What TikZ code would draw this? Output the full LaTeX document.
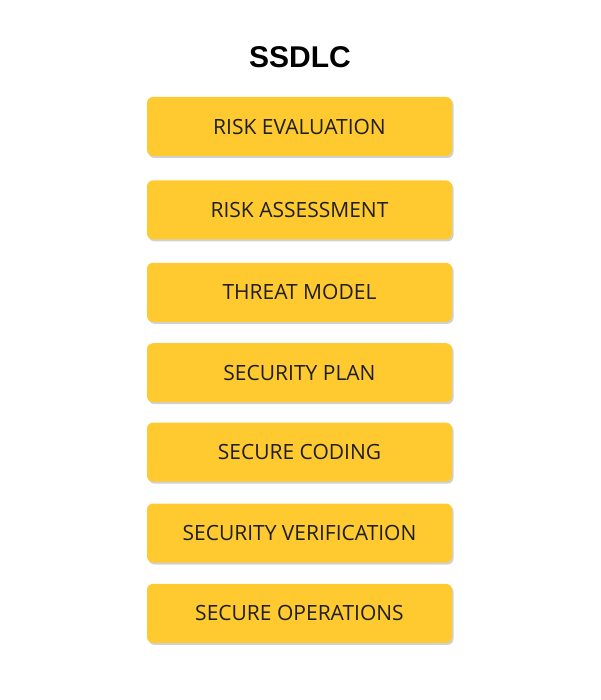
\documentclass[tikz,border=0pt]{standalone}
\usepackage{fontspec}
\setmainfont{Open Sans}
\newfontfamily\titlefont{Liberation Sans}
\usetikzlibrary{positioning,shadows}
\definecolor{stepyellow}{HTML}{FFCA30}
\definecolor{steptext}{HTML}{1E1E1E}
\tikzset{
	stagebox/.style={
		rectangle, rounded corners=6pt, fill=stepyellow,
		minimum width=305pt, minimum height=59pt,
		text=steptext, font=\fontsize{21}{25}\selectfont,
		drop shadow={shadow xshift=1.5pt, shadow yshift=-2pt, fill=black!30, opacity=0.6}
	},
	title/.style={font=\titlefont\bfseries\fontsize{30}{34}\selectfont}
}
\begin{document}
\begin{tikzpicture}[x=1pt, y=-1pt]
	\useasboundingbox (0,0) rectangle (600,700);
	\node[title] (ssdlc) at (300,57) {SSDLC};
	\node[stagebox] (risk eval) at (299.5,126.5) {RISK EVALUATION};
	\node[stagebox, below=24pt of risk eval] (risk assess) {RISK ASSESSMENT};
	\node[stagebox, below=23pt of risk assess] (threat) {THREAT MODEL};
	\node[stagebox, below=21pt of threat] (plan) {SECURITY PLAN};
	\node[stagebox, below=20pt of plan] (coding) {SECURE CODING};
	\node[stagebox, below=21.5pt of coding] (verify) {SECURITY VERIFICATION};
	\node[stagebox, below=21pt of verify] (ops) {SECURE OPERATIONS};
\end{tikzpicture}
\end{document}
